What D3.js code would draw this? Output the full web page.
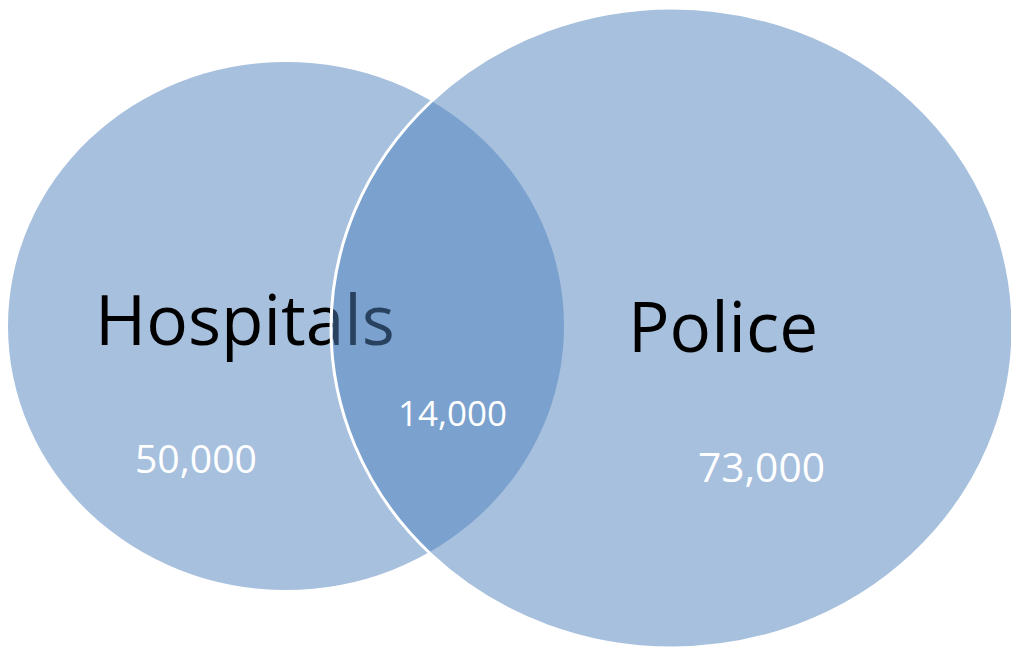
<!DOCTYPE html>
<html>
<head>
<meta charset="utf-8">
<script src="https://cdn.jsdelivr.net/npm/d3@7"></script>
<style>
  html, body { margin: 0; padding: 0; background: #ffffff; }
  svg { display: block; }
</style>
</head>
<body>
<svg id="chart" width="1011" height="650"></svg>
<script>
// Venn data: two sets and their overlap
const sets = ["Hospitals", "Police"];
const onlyCounts = [50000, 73000];
const overlapCount = 14000;

// Ellipse geometry for each set (layout)
const shapes = [
  { cx: 286, cy: 326, rx: 278, ry: 264 },
  { cx: 672, cy: 328, rx: 341, ry: 320 }
];
// Text placement: set names and counts (left x, baseline y, target width)
const nameLayout = [
  { x: 95, y: 345, w: 300 },
  { x: 628, y: 352, w: 190 }
];
const countLayout = [
  { x: 135, y: 473, w: 122 },
  { x: 698, y: 482, w: 127 }
];
const overlapLayout = { x: 398, y: 426, w: 109 };

const fmt = d3.format(",");
const svg = d3.select("#chart");
const fill = "#4F81BD";
const font = "'Open Sans', Lato, sans-serif";

function fitText(sel, target) {
  sel.each(function () {
    const el = d3.select(this);
    let fs = 60;
    el.attr("font-size", fs);
    const w = this.getComputedTextLength();
    fs = fs * target / w;
    el.attr("font-size", fs);
  });
}

// Left set ellipse
svg.append("ellipse")
  .attr("cx", shapes[0].cx).attr("cy", shapes[0].cy)
  .attr("rx", shapes[0].rx).attr("ry", shapes[0].ry)
  .attr("fill", fill).attr("fill-opacity", 0.5);

// Left set name sits below the right ellipse
const n0 = svg.append("text")
  .attr("x", nameLayout[0].x).attr("y", nameLayout[0].y)
  .attr("font-family", font).attr("fill", "#000")
  .text(sets[0]);
fitText(n0, nameLayout[0].w);

// Right set ellipse with white outline
svg.append("ellipse")
  .attr("cx", shapes[1].cx).attr("cy", shapes[1].cy)
  .attr("rx", shapes[1].rx).attr("ry", shapes[1].ry)
  .attr("fill", fill).attr("fill-opacity", 0.5)
  .attr("stroke", "#ffffff").attr("stroke-width", 3);

const n1 = svg.append("text")
  .attr("x", nameLayout[1].x).attr("y", nameLayout[1].y)
  .attr("font-family", font).attr("fill", "#000")
  .text(sets[1]);
fitText(n1, nameLayout[1].w);

// Counts
svg.selectAll("text.count")
  .data(onlyCounts)
  .join("text")
  .attr("class", "count")
  .attr("x", (d, i) => countLayout[i].x)
  .attr("y", (d, i) => countLayout[i].y)
  .attr("font-family", font).attr("fill", "#ffffff")
  .text(d => fmt(d))
  .each(function (d, i) { fitText(d3.select(this), countLayout[i].w); });

const ov = svg.append("text")
  .attr("x", overlapLayout.x).attr("y", overlapLayout.y)
  .attr("font-family", font).attr("fill", "#ffffff")
  .text(fmt(overlapCount));
fitText(ov, overlapLayout.w);
</script>
</body>
</html>
